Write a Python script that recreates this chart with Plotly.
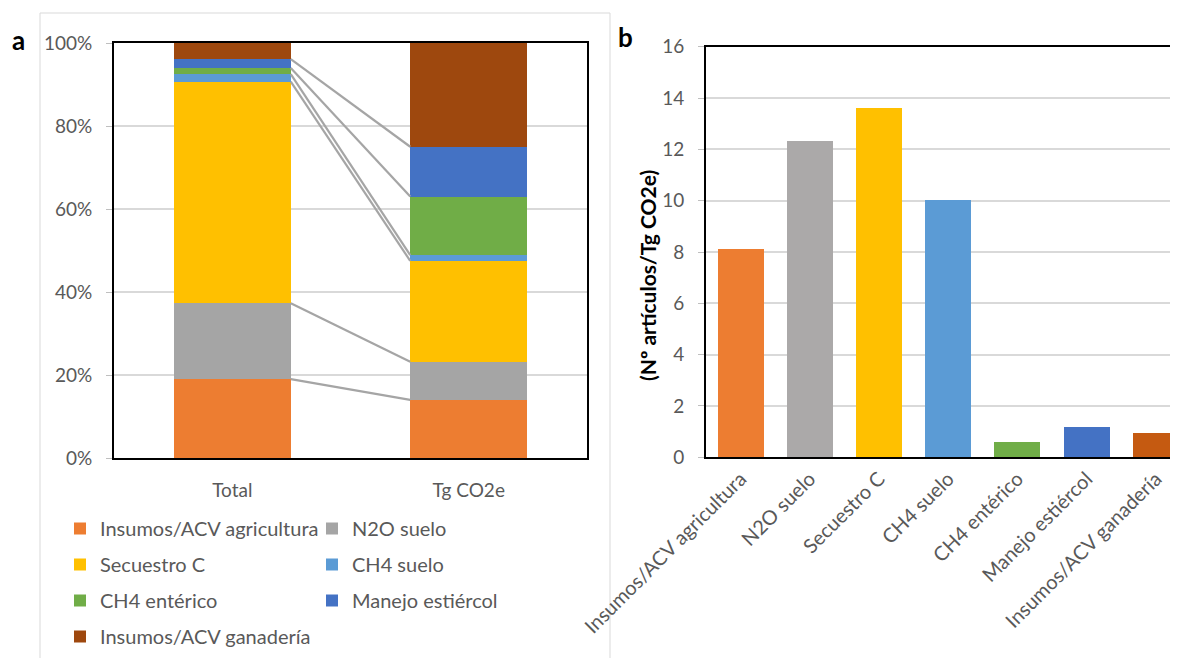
import plotly.graph_objects as go

# ---------------- data ----------------
series_names = ["Insumos/ACV agricultura", "N2O suelo", "Secuestro C", "CH4 suelo",
                "CH4 entérico", "Manejo estiércol", "Insumos/ACV ganadería"]
stack_categories = ["Total", "Tg CO2e"]
# share (%) of each source in each stacked column
share_total = [19.0, 18.3, 53.4, 1.8, 1.5, 2.1, 3.9]
share_tg = [14.0, 9.2, 24.3, 1.4, 14.1, 12.0, 25.0]
# panel b: Nº artículos / Tg CO2e
ratio_values = [8.13, 12.34, 13.62, 10.02, 0.61, 1.19, 0.94]
y_ticks_a = [0, 20, 40, 60, 80, 100]
y_ticks_b = [0, 2, 4, 6, 8, 10, 12, 14, 16]

colors_a = ["#ED7D31", "#A5A5A5", "#FFC000", "#5B9BD5", "#70AD47", "#4472C4", "#9E480E"]
colors_b = ["#ED7D31", "#ABA9A9", "#FFC000", "#5B9BD5", "#70AD47", "#4472C4", "#C55A11"]

FONT = "Lato"
TXT = "#595959"
OX, OY = 8, 8            # page body margin of the browser
W, H = 1178 - OX, 658 - OY
BAR_W = 0.495
BAR_W_B = 0.665

fig = go.Figure()

# stacked bars (panel a)
col_of = [1, 2, 1, 2, 1, 2, 1]
for i, name in enumerate(series_names):
    fig.add_trace(go.Bar(
        x=[0, 1], y=[share_total[i], share_tg[i]], name=name,
        marker=dict(color=colors_a[i], line=dict(width=0)), width=BAR_W,
        xaxis="x", yaxis="y",
        legend="legend" if col_of[i] == 1 else "legend2",
        legendgroup=name, hoverinfo="name+y",
    ))

# connector lines between the two stacked columns
cum_t, cum_g = 0.0, 0.0
for i in range(len(series_names) - 1):
    cum_t += share_total[i]
    cum_g += share_tg[i]
    fig.add_trace(go.Scatter(
        x=[0 + BAR_W / 2, 1 - BAR_W / 2], y=[cum_t, cum_g], mode="lines",
        line=dict(color="#A5A5A5", width=2.2), showlegend=False,
        hoverinfo="skip", xaxis="x", yaxis="y",
    ))

# panel b bars
fig.add_trace(go.Bar(
    x=series_names, y=ratio_values, marker=dict(color=colors_b, line=dict(width=0)),
    width=BAR_W_B, showlegend=False, xaxis="x2", yaxis="y2",
))

def fx(px):
    return (px - OX) / W

def fy(py):
    return 1 - (py - OY) / H

tickfont = dict(family=FONT, size=19, color=TXT)
legfont = dict(family=FONT, size=20, color=TXT)

fig.update_layout(
    width=W, height=H, margin=dict(l=0, r=0, t=0, b=0),
    paper_bgcolor="white", plot_bgcolor="white",
    barmode="stack",
    font=dict(family=FONT, color=TXT),
    xaxis=dict(domain=[fx(114), fx(587)], range=[-0.5, 1.5], tickvals=[0, 1],
               ticktext=stack_categories, showline=True, mirror=True,
               linecolor="black", linewidth=2, showgrid=False, zeroline=False,
               ticks="", tickfont=tickfont, ticklabelstandoff=14, automargin=False,
               fixedrange=True),
    yaxis=dict(domain=[fy(458), fy(43)], range=[0, 100], tickvals=y_ticks_a,
               ticktext=[f"{v}%" for v in y_ticks_a],
               showline=True, mirror=True, linecolor="black",
               linewidth=2, showgrid=True, gridcolor="#D9D9D9", gridwidth=1.5,
               zeroline=False, ticks="outside", ticklen=6, tickcolor="#BFBFBF",
               tickfont=tickfont, ticklabelstandoff=10, automargin=False,
               fixedrange=True),
    xaxis2=dict(domain=[fx(706), 1.0], range=[-0.5, 6.32], type="category",
                showline=True, mirror=True, linecolor="black", linewidth=2,
                showgrid=False, zeroline=False, ticks="", tickangle=-45,
                tickfont=dict(family=FONT, size=20, color=TXT), automargin=False,
                anchor="y2", fixedrange=True),
    yaxis2=dict(domain=[fy(457.3), fy(46.7)], range=[0, 16], tickvals=y_ticks_b,
                showline=True, linecolor="black", linewidth=2, showgrid=True,
                gridcolor="#D9D9D9", gridwidth=1.5, zeroline=False,
                ticks="outside", ticklen=6, tickcolor="#BFBFBF",
                tickfont=tickfont, ticklabelstandoff=10, automargin=False,
                anchor="x2", fixedrange=True),
    legend=dict(x=fx(60), y=fy(509), xanchor="left", yanchor="top",
                orientation="v", traceorder="grouped", tracegroupgap=7,
                font=legfont, bgcolor="rgba(0,0,0,0)"),
    legend2=dict(x=fx(312), y=fy(509), xanchor="left", yanchor="top",
                 orientation="v", traceorder="grouped", tracegroupgap=7,
                 font=legfont, bgcolor="rgba(0,0,0,0)"),
    shapes=[dict(type="rect", xref="paper", yref="paper", x0=fx(40), x1=fx(610),
                 y0=-0.05, y1=fy(13), line=dict(color="#D9D9D9", width=1),
                 fillcolor="rgba(0,0,0,0)", layer="below")],
    annotations=[
        dict(text="<b>a</b>", x=fx(18), y=fy(40), xref="paper", yref="paper",
             xanchor="center", yanchor="middle", showarrow=False,
             font=dict(family=FONT, size=26, color="black")),
        dict(text="<b>b</b>", x=fx(625), y=fy(37), xref="paper", yref="paper",
             xanchor="center", yanchor="middle", showarrow=False,
             font=dict(family=FONT, size=26, color="black")),
        dict(text="<b>(Nº artículos/Tg CO2e)</b>", x=fx(647), y=fy(275),
             xref="paper", yref="paper", xanchor="center", yanchor="middle",
             textangle=-90, showarrow=False,
             font=dict(family=FONT, size=21, color="black")),
    ],
)

fig.write_html("out.html")
